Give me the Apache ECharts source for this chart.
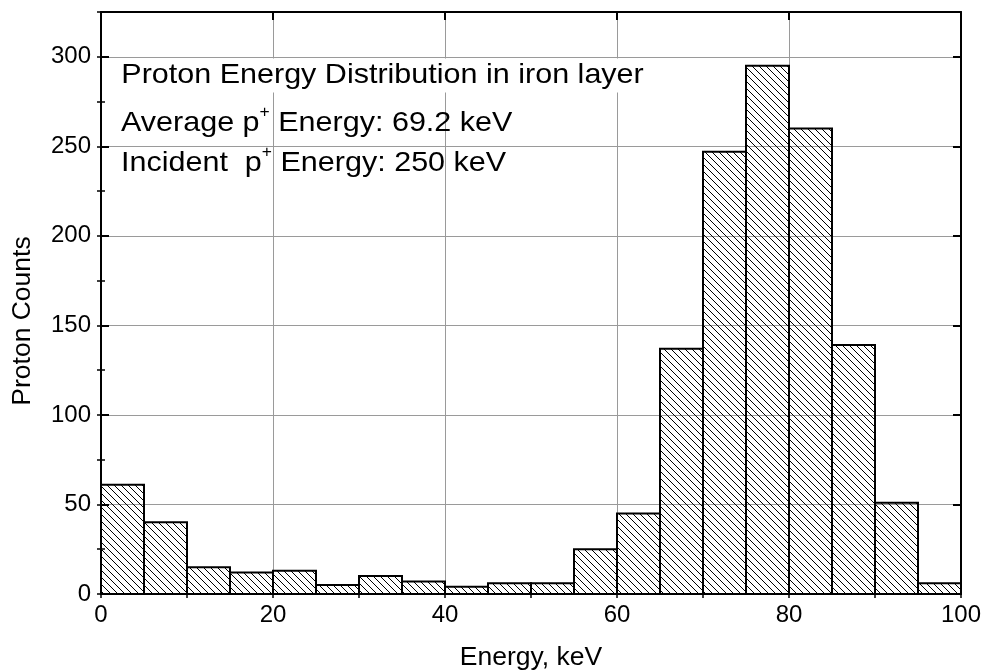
<!DOCTYPE html>
<html>
<head>
<meta charset="utf-8">
<script src="https://cdn.jsdelivr.net/npm/echarts@6/dist/echarts.min.js"></script>
<style>
  html, body { margin: 0; padding: 0; background: #fff; }
  #chart { width: 984px; height: 672px; }
</style>
</head>
<body>
<div id="chart"></div>
<script>
// Histogram of proton energies (5 keV bins)
const binEdges = [0, 5, 10, 15, 20, 25, 30, 35, 40, 45, 50, 55, 60, 65, 70, 75, 80, 85, 90, 95, 100];
const protonCounts = [61, 40, 15, 12, 13, 5, 10, 7, 4, 6, 6, 25, 45, 137, 247, 295, 260, 139, 51, 6];

const xTicksMajor = 20;
const xTicksMinor = 10;
const yTicksMajor = 50;
const yTicksMinor = 25;
const xRange = [0, 100];
const yRange = [0, 325];

const titleLine = 'Proton Energy Distribution in iron layer';
const avgLine = ['Average p', '+', ' Energy: 69.2 keV'];
const incLine = ['Incident  p', '+', ' Energy: 250 keV'];
const xName = 'Energy, keV';
const yName = 'Proton Counts';

const FONT = '"Liberation Sans", Arial, Helvetica, sans-serif';
const NOTE_STRETCH = 1.09;   // annotation text is set slightly wide

// diagonal "\" hatching used as the bar fill
function makeHatch(size) {
  const c = document.createElement('canvas');
  c.width = size; c.height = size;
  const g = c.getContext('2d');
  g.strokeStyle = '#000';
  g.lineWidth = 1;
  g.beginPath();
  g.moveTo(0, 0); g.lineTo(size, size);
  g.moveTo(-1, size - 1); g.lineTo(1, size + 1);
  g.moveTo(size - 1, -1); g.lineTo(size + 1, 1);
  g.stroke();
  return c;
}
const hatch = { image: makeHatch(7), repeat: 'repeat' };

const histData = protonCounts.map((v, i) => [binEdges[i], binEdges[i + 1], v]);

function majorX(pos, withLabels) {
  return {
    type: 'value', position: pos, min: xRange[0], max: xRange[1], interval: xTicksMajor,
    axisLine: { show: true, onZero: false, lineStyle: { color: '#000', width: 2 } },
    axisTick: { show: true, inside: true, length: 8, lineStyle: { color: '#000', width: 2 } },
    axisLabel: { show: withLabels, color: '#000', fontSize: 24, fontFamily: FONT, margin: 9 },
    splitLine: { show: withLabels, lineStyle: { color: '#9a9a9a', width: 1 } }
  };
}
function minorX(pos) {
  return {
    type: 'value', position: pos, min: xRange[0], max: xRange[1], interval: xTicksMinor,
    axisLine: { show: false },
    axisTick: { show: true, inside: true, length: 4, lineStyle: { color: '#000', width: 1.5 } },
    axisLabel: { show: false }, splitLine: { show: false }
  };
}
function majorY(pos, withLabels) {
  return {
    type: 'value', position: pos, min: yRange[0], max: yRange[1], interval: yTicksMajor,
    axisLine: { show: true, onZero: false, lineStyle: { color: '#000', width: 2 } },
    axisTick: { show: true, inside: true, length: 8, lineStyle: { color: '#000', width: 2 } },
    axisLabel: { show: withLabels, showMaxLabel: false, color: '#000', fontSize: 24, fontFamily: FONT, margin: 10 },
    splitLine: { show: withLabels, lineStyle: { color: '#9a9a9a', width: 1 } }
  };
}
function minorY(pos) {
  return {
    type: 'value', position: pos, min: yRange[0], max: yRange[1], interval: yTicksMinor,
    axisLine: { show: false },
    axisTick: { show: true, inside: true, length: 4, lineStyle: { color: '#000', width: 1.5 } },
    axisLabel: { show: false }, splitLine: { show: false }
  };
}

const xAxes = [majorX('bottom', true), majorX('top', false), minorX('bottom'), minorX('top')];
xAxes[0].name = xName;
xAxes[0].nameLocation = 'middle';
xAxes[0].nameGap = 64;
xAxes[0].nameTextStyle = { color: '#000', fontSize: 26.5, fontFamily: FONT, verticalAlign: 'middle' };

const noteRich = {
  a: { fill: '#000', fontSize: 28, fontFamily: FONT, lineHeight: 37 },
  s: { fill: '#000', fontSize: 16, fontFamily: FONT, lineHeight: 16, verticalAlign: 'top' }
};

const chart = echarts.init(document.getElementById('chart'), null, { renderer: 'canvas' });
chart.setOption({
  animation: false,
  backgroundColor: '#fff',
  grid: { left: 101, right: 23, top: 12, bottom: 78, containLabel: false, outerBoundsMode: 'none' },
  xAxis: xAxes,
  yAxis: [majorY('left', true), majorY('right', false), minorY('left'), minorY('right')],
  series: [{
    type: 'custom',
    xAxisIndex: 0,
    yAxisIndex: 0,
    data: histData,
    encode: { x: [0, 1], y: 2 },
    z: 2,
    renderItem: function (params, api) {
      const top = api.coord([api.value(0), api.value(2)]);
      const base = api.coord([api.value(1), 0]);
      return {
        type: 'rect',
        shape: { x: top[0], y: top[1], width: base[0] - top[0], height: base[1] - top[1] },
        style: { fill: hatch, stroke: '#000', lineWidth: 2 }
      };
    }
  }],
  graphic: [
    {
      type: 'text', x: 22.5, y: 321, rotation: Math.PI / 2, z: 100,
      style: { text: yName, fill: '#000', fontSize: 26.5, fontFamily: FONT, align: 'center', verticalAlign: 'middle' }
    },
    {
      type: 'text', x: 118, y: 75.5, z: 100, scaleX: NOTE_STRETCH,
      style: {
        text: titleLine, fill: '#000', fontSize: 28, fontFamily: FONT,
        align: 'left', verticalAlign: 'middle', backgroundColor: '#fff', padding: [3, 3]
      }
    },
    {
      type: 'text', x: 121, y: 123, z: 100, scaleX: NOTE_STRETCH,
      style: {
        text: '{a|' + avgLine[0] + '}{s|' + avgLine[1] + '}{a|' + avgLine[2] + '}',
        align: 'left', verticalAlign: 'middle', rich: noteRich
      }
    },
    {
      type: 'text', x: 121, y: 163.5, z: 100, scaleX: NOTE_STRETCH,
      style: {
        text: '{a|' + incLine[0] + '}{s|' + incLine[1] + '}{a|' + incLine[2] + '}',
        align: 'left', verticalAlign: 'middle', rich: noteRich
      }
    }
  ]
});
</script>
</body>
</html>
